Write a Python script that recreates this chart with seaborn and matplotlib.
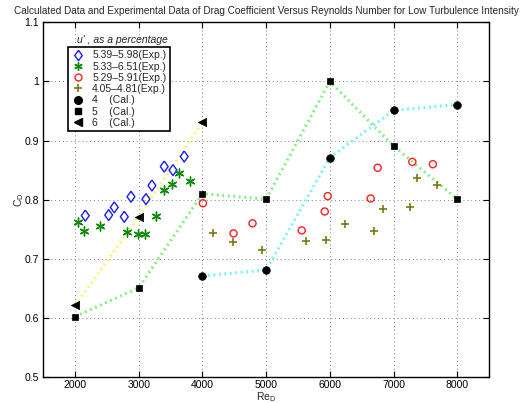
import numpy as np
import pandas as pd
import matplotlib
matplotlib.use("Agg")
import matplotlib.pyplot as plt
import seaborn as sns
from matplotlib.lines import Line2D

# ---------------- data ----------------
exp1_x = [2161, 2528, 2616, 2773, 2878, 3113, 3207, 3400, 3537, 3714]
exp1_y = [0.773, 0.774, 0.787, 0.771, 0.805, 0.801, 0.824, 0.856, 0.850, 0.873]

exp2_x = [2042, 2146, 2397, 2811, 2993, 3102, 3270, 3391, 3521, 3631, 3799]
exp2_y = [0.763, 0.747, 0.756, 0.745, 0.742, 0.742, 0.773, 0.817, 0.826, 0.845, 0.831]

exp3_x = [4007, 4488, 4786, 5559, 5920, 5967, 6641, 6751, 7295, 7618]
exp3_y = [0.794, 0.743, 0.760, 0.748, 0.780, 0.806, 0.802, 0.854, 0.864, 0.860]

exp4_x = [4169, 4477, 4932, 5622, 5946, 6234, 6699, 6834, 7258, 7373, 7676]
exp4_y = [0.743, 0.729, 0.715, 0.730, 0.731, 0.759, 0.747, 0.785, 0.787, 0.836, 0.825]

cal4_x = [4000, 5000, 6000, 7000, 8000]
cal4_y = [0.671, 0.681, 0.871, 0.951, 0.961]

cal5_x = [2000, 3000, 4000, 5000, 6000, 7000, 8000]
cal5_y = [0.602, 0.651, 0.810, 0.801, 1.000, 0.891, 0.801]

cal6_x = [2000, 3000, 4000]
cal6_y = [0.621, 0.771, 0.931]

labels = ["5.39\u20135.98(Exp.)", "5.33\u20136.51(Exp.)", "5.29\u20135.91(Exp.)",
          "4.05\u20134.81(Exp.)", "4    (Cal.)", "5    (Cal.)", "6    (Cal.)"]

xticks = [2000, 3000, 4000, 5000, 6000, 7000, 8000]
yticks = [0.5, 0.6, 0.7, 0.8, 0.9, 1.0, 1.1]
yticklabels = ["0.5", "0.6", "0.7", "0.8", "0.9", "1", "1.1"]

# ---------------- style ----------------
sns.set_style("white")
plt.rcParams['font.family'] = ['Liberation Sans', 'DejaVu Sans']
plt.rcParams['mathtext.fontset'] = 'custom'
plt.rcParams['mathtext.rm'] = 'Liberation Sans'
plt.rcParams['mathtext.it'] = 'Liberation Sans'

fig = plt.figure(figsize=(5.27, 4.03), dpi=100)
ax = fig.add_axes([0.082, 0.0645, 0.846, 0.880])

fs = 7.5

# calculated lines (dotted)
line_specs = [(cal4_x, cal4_y, '#6ff5f5'), (cal5_x, cal5_y, '#7cf07c'), (cal6_x, cal6_y, '#f5f56a')]
for xs, ys, c in line_specs:
    df = pd.DataFrame({'x': xs, 'y': ys})
    sns.lineplot(data=df, x='x', y='y', ax=ax, color=c, linestyle=(0, (0.6, 1.2)),
                 linewidth=2.2, sort=False, zorder=2)

# calculated markers
cal_specs = [(cal4_x, cal4_y, 'o', 5.5), (cal5_x, cal5_y, 's', 5), (cal6_x, cal6_y, '<', 6)]
for xs, ys, m, s in cal_specs:
    df = pd.DataFrame({'x': xs, 'y': ys})
    sns.scatterplot(data=df, x='x', y='y', ax=ax, marker=m, s=s**2, color='black',
                    edgecolor='black', linewidth=0.5, zorder=3)

# experimental markers
asterisk = (6, 2, 0)
diamond = [(0, 1), (0.72, 0), (0, -1), (-0.72, 0), (0, 1)]
df1 = pd.DataFrame({'x': exp1_x, 'y': exp1_y})
sns.scatterplot(data=df1, x='x', y='y', ax=ax, marker=diamond, s=62, facecolor='none',
                edgecolor='#1a1aff', linewidth=1.0, zorder=4)
df2 = pd.DataFrame({'x': exp2_x, 'y': exp2_y})
sns.scatterplot(data=df2, x='x', y='y', ax=ax, marker=asterisk, s=40, color='#0a8a0a',
                edgecolor='#0a8a0a', linewidth=1.0, zorder=4)
df3 = pd.DataFrame({'x': exp3_x, 'y': exp3_y})
sns.scatterplot(data=df3, x='x', y='y', ax=ax, marker='o', s=26, facecolor='none',
                edgecolor='#ff2020', linewidth=1.0, zorder=4)
df4 = pd.DataFrame({'x': exp4_x, 'y': exp4_y})
sns.scatterplot(data=df4, x='x', y='y', ax=ax, marker='+', s=36, color='#7a7a10',
                linewidth=1.2, zorder=4)

# axes
ax.set_xlim(1500, 8500)
ax.set_ylim(0.5, 1.1)
ax.set_xticks(xticks)
ax.set_xticklabels([str(t) for t in xticks], fontsize=fs)
ax.set_yticks(yticks)
ax.set_yticklabels(yticklabels, fontsize=fs)
ax.tick_params(direction='in', length=4, width=0.8, top=True, right=True,
               bottom=True, left=True, pad=3, colors='black')
ax.tick_params(axis='x', pad=2.5)
ax.grid(True, linestyle=(0, (1, 3)), color='#808080', linewidth=0.7)
for sp in ax.spines.values():
    sp.set_color('black')
    sp.set_linewidth(1.0)
    sp.set_visible(True)

ax.set_xlabel('Re$_D$', fontsize=fs, labelpad=-0.3)
ax.set_ylabel('C$_D$', fontsize=fs, labelpad=-1)
ax.set_title('Calculated Data and Experimental Data of Drag Coefficient Versus Reynolds Number for Low Turbulence Intensity',
             fontsize=7.2, pad=6)

# legend
handles = [
    Line2D([], [], marker=diamond, linestyle='none', markerfacecolor='none', markeredgecolor='#1a1aff', markersize=7.5, markeredgewidth=1.0),
    Line2D([], [], marker=asterisk, linestyle='none', color='#0a8a0a', markersize=6, markeredgewidth=1.0),
    Line2D([], [], marker='o', linestyle='none', markerfacecolor='none', markeredgecolor='#ff2020', markersize=5, markeredgewidth=1.0),
    Line2D([], [], marker='+', linestyle='none', color='#7a7a10', markersize=6, markeredgewidth=1.2),
    Line2D([], [], marker='o', linestyle='none', color='black', markersize=5.5),
    Line2D([], [], marker='s', linestyle='none', color='black', markersize=5),
    Line2D([], [], marker='<', linestyle='none', color='black', markersize=6),
]
leg = ax.legend(handles, labels, loc='upper left', bbox_to_anchor=(0.056, 0.930),
                borderaxespad=0, fontsize=fs, frameon=True, fancybox=False,
                edgecolor='black', framealpha=1, labelspacing=0.12,
                handlelength=1.2, handletextpad=0.8, borderpad=0.3)
leg.get_frame().set_linewidth(1.2)
ax.text(0.075, 0.937, "u' , as a percentage", transform=ax.transAxes, fontsize=fs,
        style='italic', ha='left', va='bottom')

fig.savefig('out.png', dpi=100)
